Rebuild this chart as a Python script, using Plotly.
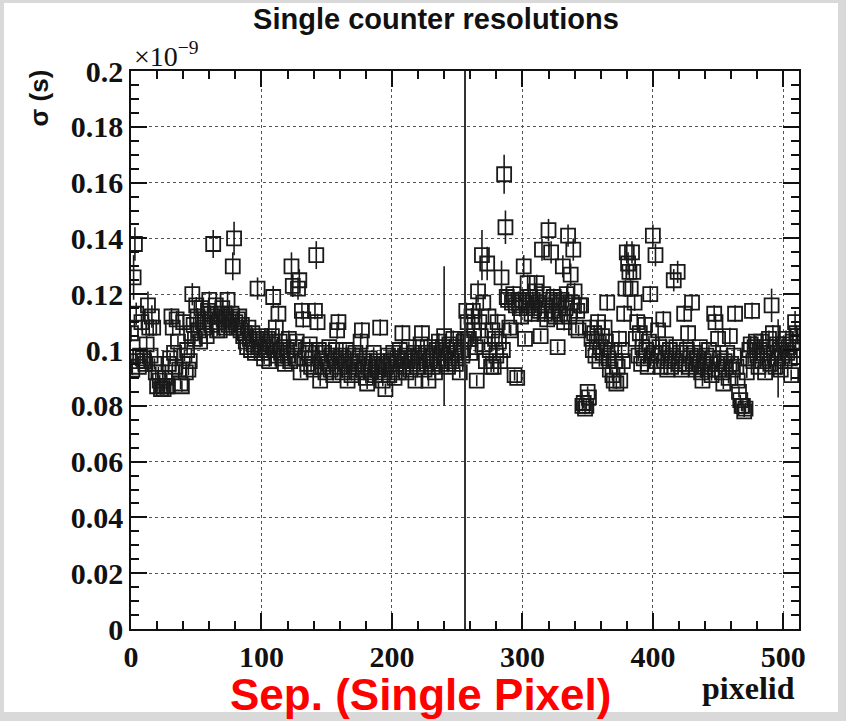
import plotly.graph_objects as go

# ---------------- data (sigma in units of 1e-9 s, thousandths) ----------------
pixel_ids = list(range(512))

sigma_milli = [
    106, 93, 126, 138, 113, 96, 94, 98, 110, 97, 96, 95, 102, 116, 108, 98,
    112, 108, 95, 92, 87, 92, 89, 86, 87, 86, 90, 87, 87, 95, 97, 112,
    108, 99, 94, 111, 103, 93, 88, 87, 110, 98, 92, 100, 93, 96, 106, 120,
    109, 104, 116, 112, 107, 103, 115, 110, 108, 111, 105, 114, 118, 113, 109, 138,
    112, 116, 107, 110, 107, 113, 115, 111, 108, 112, 118, 109, 111, 113, 130, 140,
    110, 108, 111, 112, 107, 109, 105, 106, 103, 101, 108, 104, 100, 106, 102, 99,
    104, 122, 101, 105, 99, 103, 97, 101, 100, 104, 96, 102, 105, 119, 100, 108,
    98, 113, 103, 99, 97, 101, 95, 100, 98, 104, 96, 130, 123, 101, 97, 103,
    122, 125, 92, 114, 111, 97, 100, 95, 99, 102, 94, 97, 93, 114, 134, 110,
    100, 89, 96, 94, 99, 92, 97, 95, 101, 93, 98, 91, 96, 100, 107, 110,
    94, 98, 92, 97, 95, 100, 89, 93, 96, 91, 98, 94, 99, 92, 95, 97,
    103, 107, 93, 96, 90, 88, 94, 97, 92, 95, 99, 91, 94, 96, 93, 108,
    95, 89, 92, 86, 94, 98, 91, 96, 93, 99, 90, 95, 97, 92, 100, 96,
    106, 94, 98, 92, 96, 101, 93, 97, 95, 99, 89, 94, 98, 96, 102, 106,
    97, 93, 99, 95, 89, 96, 101, 94, 98, 92, 100, 96, 103, 95, 99, 101,
    105, 97, 100, 94, 102, 98, 96, 104, 99, 95, 101, 97, 92, 100, 98, 103,
    104, 114, 110, 104, 99, 112, 114, 107, 101, 89, 121, 110, 105, 134, 117, 102,
    96, 131, 112, 100, 94, 107, 94, 104, 98, 110, 103, 96, 126, 100, 163, 144,
    119, 118, 108, 107, 117, 120, 91, 116, 90, 118, 115, 112, 118, 130, 104, 117,
    124, 116, 119, 113, 118, 115, 121, 124, 117, 114, 105, 136, 120, 113, 116, 111,
    143, 118, 135, 114, 119, 112, 117, 101, 116, 113, 118, 130, 110, 115, 120, 141,
    112, 127, 117, 136, 121, 108, 114, 107, 116, 116, 80, 81, 79, 80, 85, 83,
    108, 104, 100, 106, 98, 103, 110, 96, 101, 105, 99, 108, 103, 117, 97, 93,
    100, 91, 89, 96, 88, 94, 104, 89, 100, 96, 113, 122, 135, 131, 128, 122,
    135, 128, 117, 104, 110, 98, 106, 95, 101, 97, 109, 100, 94, 103, 120, 98,
    141, 99, 134, 96, 107, 101, 94, 99, 111, 96, 102, 93, 97, 100, 94, 98,
    125, 96, 101, 128, 95, 99, 93, 97, 113, 95, 100, 106, 94, 98, 117, 96,
    99, 93, 97, 95, 101, 92, 89, 96, 94, 98, 93, 100, 95, 91, 97, 113,
    110, 95, 104, 93, 97, 92, 88, 96, 94, 99, 90, 105, 95, 93, 98, 113,
    94, 89, 85, 82, 80, 80, 78, 79, 92, 97, 100, 102, 114, 96, 101, 103,
    98, 94, 100, 103, 96, 99, 92, 101, 97, 104, 95, 116, 106, 99, 94, 102,
    97, 100, 93, 98, 102, 96, 104, 99, 101, 97, 91, 103, 100, 110, 106, 105,
]

error_milli = [
    3, 2, 8, 6, 4, 2, 2, 3, 3, 2, 2, 2, 3, 5, 3, 2,
    4, 3, 2, 2, 2, 2, 2, 2, 2, 2, 2, 2, 2, 2, 2, 3,
    3, 2, 2, 3, 2, 2, 2, 2, 3, 2, 2, 2, 2, 2, 3, 4,
    3, 2, 3, 3, 2, 2, 3, 3, 2, 3, 2, 3, 3, 3, 2, 5,
    3, 3, 2, 3, 2, 3, 3, 3, 2, 3, 3, 2, 3, 3, 5, 6,
    3, 2, 3, 3, 2, 2, 2, 2, 2, 2, 3, 2, 2, 2, 2, 2,
    2, 4, 2, 2, 2, 2, 2, 2, 2, 2, 2, 2, 2, 4, 2, 3,
    2, 3, 2, 2, 2, 2, 2, 2, 2, 3, 2, 5, 4, 2, 2, 2,
    4, 4, 2, 3, 3, 2, 2, 2, 2, 2, 2, 2, 2, 3, 5, 3,
    2, 2, 2, 2, 2, 2, 2, 2, 2, 2, 2, 2, 2, 2, 3, 3,
    2, 2, 2, 2, 2, 2, 2, 2, 2, 2, 2, 2, 2, 2, 2, 2,
    3, 3, 2, 2, 2, 2, 2, 2, 2, 2, 2, 2, 2, 2, 2, 3,
    2, 2, 2, 2, 2, 2, 2, 2, 2, 2, 2, 2, 2, 2, 2, 2,
    3, 2, 2, 2, 2, 2, 2, 2, 2, 2, 2, 2, 2, 2, 2, 3,
    2, 2, 2, 2, 2, 2, 2, 2, 2, 2, 2, 2, 3, 2, 2, 2,
    25, 2, 2, 2, 2, 2, 2, 3, 2, 2, 2, 2, 2, 2, 2, 3,
    3, 3, 3, 2, 2, 3, 3, 3, 2, 2, 4, 3, 2, 9, 3, 2,
    2, 6, 3, 2, 2, 3, 2, 3, 2, 3, 2, 2, 6, 2, 7, 6,
    3, 3, 2, 2, 3, 3, 2, 3, 2, 3, 3, 3, 3, 4, 2, 3,
    3, 3, 3, 3, 3, 3, 3, 3, 3, 3, 2, 4, 3, 3, 3, 3,
    4, 3, 4, 3, 3, 3, 3, 2, 3, 3, 3, 4, 3, 3, 3, 4,
    3, 4, 3, 4, 3, 2, 3, 2, 3, 3, 2, 2, 2, 2, 2, 2,
    3, 2, 2, 3, 2, 2, 3, 2, 2, 3, 2, 3, 2, 3, 2, 2,
    2, 2, 2, 2, 2, 2, 3, 2, 2, 2, 3, 3, 4, 4, 3, 3,
    4, 3, 3, 2, 3, 2, 3, 2, 2, 2, 3, 2, 2, 2, 3, 2,
    4, 2, 4, 2, 3, 2, 2, 2, 3, 2, 2, 2, 2, 2, 2, 2,
    4, 2, 2, 4, 2, 2, 2, 2, 3, 2, 2, 3, 2, 2, 3, 2,
    2, 2, 2, 2, 2, 2, 2, 2, 2, 2, 2, 2, 2, 2, 2, 3,
    3, 2, 3, 2, 2, 2, 2, 2, 2, 2, 2, 3, 2, 2, 2, 3,
    2, 2, 2, 2, 2, 2, 2, 2, 2, 2, 2, 3, 3, 2, 2, 2,
    2, 2, 2, 3, 2, 2, 2, 2, 2, 3, 2, 6, 3, 2, 2, 2,
    14, 2, 2, 2, 3, 2, 3, 2, 2, 2, 2, 3, 2, 4, 3, 3,
]

sigma_e9 = [v / 1000 for v in sigma_milli]
error_e9 = [v / 1000 for v in error_milli]

separator_id = 256
y_tick_vals = [0, 0.02, 0.04, 0.06, 0.08, 0.1, 0.12, 0.14, 0.16, 0.18, 0.2]
y_tick_text = ["0", "0.02", "0.04", "0.06", "0.08", "0.1", "0.12", "0.14", "0.16", "0.18", "0.2"]
x_tick_vals = [0, 100, 200, 300, 400, 500]
x_tick_text = ["0", "100", "200", "300", "400", "500"]

# ---------------- layout geometry ----------------
W, H = 846, 721
L, R, T, B = 131, 799, 71, 629
PW, PH = R - L, B - T


def px(xp):
    return (xp - L) / PW


def py(yp):
    return (B - yp) / PH


fig = go.Figure()

fig.add_trace(go.Scatter(
    x=pixel_ids, y=sigma_e9, mode="markers",
    marker=dict(symbol="square-open", size=14, color="#1a1a1a",
                line=dict(width=1.8, color="#1a1a1a")),
    error_y=dict(type="data", array=error_e9, visible=True,
                 thickness=1.6, width=0, color="#1a1a1a"),
    showlegend=False, hoverinfo="x+y",
))

serif = "Liberation Serif, Times New Roman, serif"
sans = "Liberation Sans, Arial, sans-serif"

axis_common = dict(
    showline=True, linecolor="#111", linewidth=1.5, mirror="ticks",
    ticks="inside", tickcolor="#111", tickwidth=1.5,
    showgrid=True, gridcolor="#555", griddash="dot", gridwidth=1,
    zeroline=False,
    tickfont=dict(family=serif, size=30, color="#111", weight="bold"),
)

fig.update_xaxes(
    range=[0, 512], tickvals=x_tick_vals, ticktext=x_tick_text, ticklen=16,
    minor=dict(ticks="inside", dtick=20, tick0=0, ticklen=8,
               tickcolor="#111", tickwidth=1.5, showgrid=False),
    **axis_common,
)
fig.update_yaxes(
    range=[0, 0.2], tickvals=y_tick_vals, ticktext=y_tick_text, ticklen=16,
    minor=dict(ticks="inside", dtick=0.005, tick0=0, ticklen=8,
               tickcolor="#111", tickwidth=1.5, showgrid=False),
    **axis_common,
)

shapes = [
    # white page inside grey frame
    dict(type="rect", xref="paper", yref="paper",
         x0=px(4), x1=px(838), y0=py(712), y1=py(3),
         fillcolor="white", line=dict(width=0), layer="below"),
    # separator at pixel 256
    dict(type="line", xref="x", yref="y", x0=separator_id, x1=separator_id,
         y0=0, y1=0.2, line=dict(color="#333", width=2)),
]

annotations = [
    dict(text="×10<sup>−9</sup>", xref="paper", yref="paper",
         x=px(132), y=py(55), xanchor="left", yanchor="middle",
         showarrow=False, font=dict(family=serif, size=28, color="#111")),
    dict(text="σ (s)", xref="paper", yref="paper", textangle=-90,
         x=px(38), y=py(68), xanchor="center", yanchor="top",
         showarrow=False, font=dict(family=sans, size=26, color="#111", weight="bold")),
    dict(text="pixelid", xref="paper", yref="paper",
         x=px(797), y=py(688), xanchor="right", yanchor="middle",
         showarrow=False, font=dict(family=serif, size=32, color="#111", weight="bold")),
    dict(text="Sep. (Single Pixel)", xref="paper", yref="paper",
         x=px(420), y=py(694), xanchor="center", yanchor="middle",
         showarrow=False,
         font=dict(family=sans, size=44, color="#ff0000", weight="bold")),
]

fig.update_layout(
    width=W, height=H,
    margin=dict(l=L, r=W - R, t=T, b=H - B, pad=0),
    paper_bgcolor="#d9d9d9", plot_bgcolor="white",
    title=dict(text="Single counter resolutions", x=436 / W, xref="container",
               y=1 - 19 / H, yref="container", xanchor="center", yanchor="middle",
               font=dict(family=sans, size=29, color="#111", weight="bold")),
    shapes=shapes, annotations=annotations,
)

fig.write_html("out.html")
